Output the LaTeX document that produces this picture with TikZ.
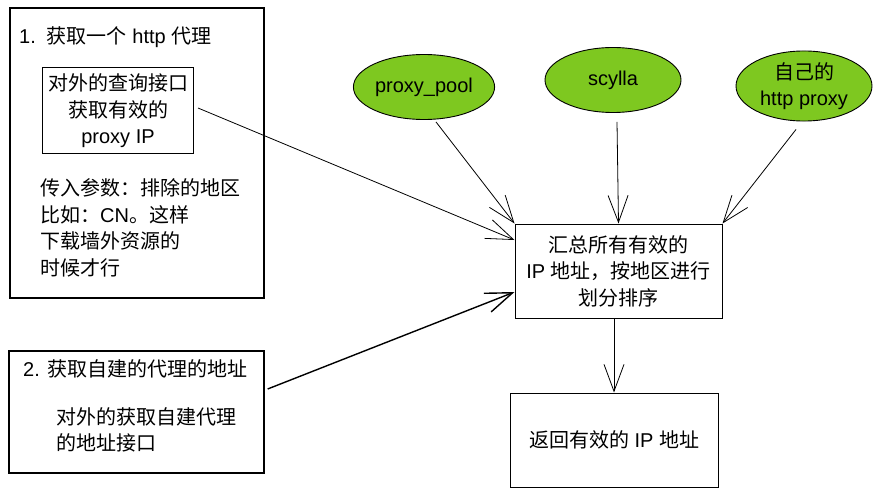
\documentclass[tikz,border=0pt]{standalone}
\usepackage{fontspec}
\setmainfont{Liberation Sans}
\newfontfamily\cjk{Noto Sans CJK SC}
\usetikzlibrary{arrows.meta,shapes.geometric}
\definecolor{leafgreen}{RGB}{126,200,32}

\begin{document}
\begin{tikzpicture}[x=1pt,y=-1pt,font=\fontsize{20}{26.5}\selectfont,
  box/.style={draw,line width=1pt,inner sep=0pt},
  note/.style={inner sep=0pt},
  source/.style={ellipse,draw,line width=0.9pt,fill=leafgreen,minimum width=136pt,minimum height=65pt,inner sep=1pt,align=center},
  flow/.style={line width=0.8pt,-{Straight Barb[length=27pt,width=20pt]}}]
\useasboundingbox (0,0) rectangle (885,497);

% left column
\node[box,line width=1.3pt,minimum width=254pt,minimum height=290pt] (getA) at (137,153) {};
\node[note,anchor=west] (titleA) at (19,37) {1.\hspace{0.55em}{\cjk 获取一个} http {\cjk 代理}};
\node[box,minimum width=151pt,minimum height=86pt,align=center] (innerA) at (118,111)
  {{\cjk 对外的查询接口}\\{\cjk 获取有效的}\\proxy IP};
\node[note,align=left,anchor=west] (noteA) at (40,228)
  {{\cjk 传入参数：排除的地区}\\{\cjk 比如：}CN{\cjk 。这样}\\{\cjk 下载墙外资源的}\\{\cjk 时候才行}};

\node[box,line width=1.3pt,minimum width=255pt,minimum height=122pt] (getB) at (136.5,412) {};
\node[note,anchor=west] (titleB) at (23,369) {2. {\cjk 获取自建的代理的地址}};
\node[note,align=left,anchor=west] (noteB) at (56,430)
  {{\cjk 对外的获取自建代理}\\{\cjk 的地址接口}};

% sources
\node[source] (pool) at (424,87) {proxy\_pool};
\node[source] (scylla) at (613,80) {scylla};
\node[source] (own) at (804,86) {{\cjk 自己的}\\http proxy};

% right column
\node[box,minimum width=207pt,minimum height=94pt,align=center] (sumbox) at (618.5,271)
  {{\cjk 汇总所有有效的}\\IP {\cjk 地址，按地区进行}\\{\cjk 划分排序}};
\node[box,minimum width=208pt,minimum height=94pt] (retbox) at (614,440)
  {{\cjk 返回有效的} IP {\cjk 地址}};

\draw[flow] ([xshift=4pt,yshift=3pt]innerA.east) -- ([yshift=31pt]sumbox.west);
\foreach \src/\dx/\dy/\dst in {pool/12/-2/north west,scylla/4/-9/north,own/-8/-8/north east}
  \draw[flow] ([xshift=\dx pt,yshift=\dy pt]\src.south) -- (sumbox.\dst);
\draw[flow] (sumbox.south -| retbox.north) -- (retbox.north);
\draw[flow,line width=1.4pt] ([xshift=3pt,yshift=23pt]getB.east) -- ([yshift=-21pt]sumbox.west);
\end{tikzpicture}
\end{document}
